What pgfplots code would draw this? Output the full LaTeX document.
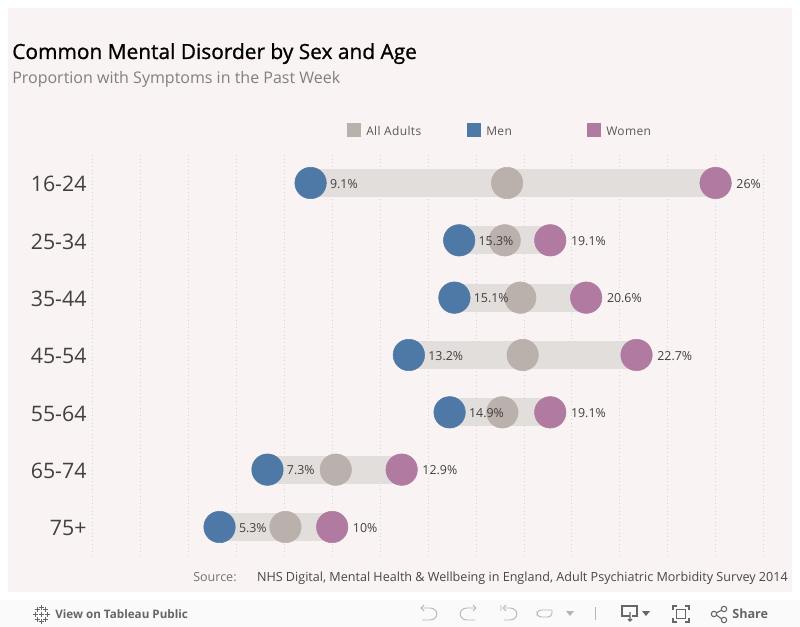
\documentclass[border=0pt]{standalone}
\usepackage{fontspec}
\setmainfont{Open Sans}
\newfontfamily\titlefont[FakeBold=0.9]{Open Sans}
\usepackage{pgfplots}
\pgfplotsset{compat=1.18}
\usepackage{pgfplotstable}
\definecolor{panel}{HTML}{F9F3F3}
\definecolor{bar}{HTML}{E2DEDC}
\definecolor{men}{HTML}{4E79A7}
\definecolor{women}{HTML}{B07AA1}
\definecolor{adults}{HTML}{BAB0AC}
\definecolor{tool}{HTML}{FAFAFA}
\definecolor{icon}{HTML}{B5B5B5}
\definecolor{icond}{HTML}{666666}
\pgfplotstableread{
x y
9.1 0
15.3 1
15.1 2
13.2 3
14.9 4
7.3 5
5.3 6
}\men
\pgfplotstableread{
x y
26 0
19.1 1
20.6 2
22.7 3
19.1 4
12.9 5
10 6
}\women
\pgfplotstableread{
x y
17.3 0
17.2 1
17.85 2
17.95 3
17.1 4
10.15 5
8.05 6
}\adults
\newcommand{\fs}[1]{\fontsize{#1}{#1}\selectfont}
\begin{document}
\begin{tikzpicture}[x=0.75pt,y=-0.75pt]
\useasboundingbox (0,0) rectangle (800,627);
\fill[white] (0,0) rectangle (800,627);
\fill[panel] (8,8) rectangle (792,592);
\fill[tool] (0,600) rectangle (800,627);
\node[anchor=base west,inner sep=0,text=black] at (12,59) {\titlefont\fs{15.66}Common Mental Disorder by Sex and Age};
\node[anchor=base west,inner sep=0,text=black!50] at (12,84) {\fs{12}Proportion with Symptoms in the Past Week};
% legend
\fill[adults] (347,123) rectangle (361,137);
\node[anchor=west,inner sep=0,text=black!65] at (366,131.2) {\addfontfeature{LetterSpace=3}\fs{9}All Adults};
\fill[men] (467,123) rectangle (481,137);
\node[anchor=west,inner sep=0,text=black!65] at (486,131.2) {\addfontfeature{LetterSpace=3}\fs{9}Men};
\fill[women] (587,123) rectangle (601,137);
\node[anchor=west,inner sep=0,text=black!65] at (606,131.2) {\addfontfeature{LetterSpace=3}\fs{9}Women};
\begin{axis}[
  at={(69.4pt,-417pt)},anchor=south west,
  scale only axis,width=503.25pt,height=300.75pt,
  xmin=0,xmax=28,ymin=-0.488,ymax=6.506,y dir=reverse,
  clip=false,
  axis line style={draw=none},
  xtick={0,2,...,28},xticklabels={},
  ytick={0,...,6},yticklabels={16-24,25-34,35-44,45-54,55-64,65-74,75+},
  major tick length=0pt,
  yticklabel style={font=\fs{16},text=black!75,anchor=east,xshift=-1pt,yshift=-1pt},
  xmajorgrids,
  major grid style={draw=black!16,line width=0.5pt,dash pattern=on 0.75pt off 2pt},
]
\addplot[bar,line width=21pt] coordinates {(9.1,0)(26,0)};
\addplot[bar,line width=21pt] coordinates {(15.3,1)(19.1,1)};
\addplot[bar,line width=21pt] coordinates {(15.1,2)(20.6,2)};
\addplot[bar,line width=21pt] coordinates {(13.2,3)(22.7,3)};
\addplot[bar,line width=21pt] coordinates {(14.9,4)(19.1,4)};
\addplot[bar,line width=21pt] coordinates {(7.3,5)(12.9,5)};
\addplot[bar,line width=21pt] coordinates {(5.3,6)(10,6)};
\addplot[only marks,mark=*,mark size=11.8pt,mark options={draw=men,fill=men,line width=0.4pt}] table {\men};
\addplot[only marks,mark=*,mark size=11.8pt,mark options={draw=adults,fill=adults,line width=0.4pt}] table {\adults};
\addplot[only marks,mark=*,mark size=11.8pt,mark options={draw=women,fill=women,line width=0.4pt}] table {\women};
\addplot[draw=none,mark=none,point meta=explicit symbolic,
  nodes near coords={\pgfplotspointmeta\%},
  every node near coord/.style={anchor=west,inner sep=0,xshift=14.4pt,yshift=-0.6pt,font=\fs{9.3},text=black!75}]
  table[meta=x] {\men};
\addplot[draw=none,mark=none,point meta=explicit symbolic,
  nodes near coords={\pgfplotspointmeta\%},
  every node near coord/.style={anchor=west,inner sep=0,xshift=15.4pt,yshift=-0.6pt,font=\fs{9.3},text=black!75}]
  table[meta=x] {\women};
\end{axis}
% source
\node[anchor=base west,inner sep=0,text=black!55] at (193,581) {\fs{9.4}Source:};
\node[anchor=base east,inner sep=0,text=black!72] at (788,581) {\fs{9.44}NHS Digital, Mental Health \& Wellbeing in England, Adult Psychiatric Morbidity Survey 2014};
% toolbar
\node[anchor=west,inner sep=0,text=icond] at (55,614) {\fs{8.75}\textbf{View on Tableau Public}};
\foreach \a/\b in {41/614,35/614,47/614,41/607,41/621,37/609,45/609,37/619,45/619}
  {\draw[icond,line width=0.6pt] (\a-2.5,\b) -- (\a+2.5,\b) (\a,\b-2.5) -- (\a,\b+2.5);}
\begin{scope}[icon,line width=0.7pt]
\draw[rounded corners=5pt] (421,608) -- (437,608) -- (437,620) -- (422,620);
\draw (421,608) -- (424,605) (421,608) -- (424,611);
\draw[rounded corners=5pt] (476,608) -- (460,608) -- (460,620) -- (475,620);
\draw (476,608) -- (473,605) (476,608) -- (473,611);
\draw[rounded corners=5pt] (503,608) -- (517,608) -- (517,620) -- (504,620);
\draw (501,605) -- (501,611) (503,608) -- (506,605) (503,608) -- (506,611);
\draw[rounded corners=3pt] (552,610) -- (537,610) -- (537,617) -- (552,617) -- (552,610);
\fill (566,611) -- (574,611) -- (570,616) -- cycle;
\draw (595,607) -- (595,620);
\end{scope}
\begin{scope}[icond,line width=0.8pt]
\draw (630,616) -- (622,616) -- (622,606) -- (637,606) -- (637,616) -- (632,616);
\draw (630,612) -- (630,621) (628,619) -- (630,621) -- (632,619);
\fill (642,611) -- (650,611) -- (646,616) -- cycle;
\draw (673,610) -- (673,606) -- (677,606) (685,606) -- (689,606) -- (689,610) (689,618) -- (689,622) -- (685,622) (677,622) -- (673,622) -- (673,618);
\draw (676.5,609.5) rectangle (685.5,618.5);
\draw (714,614) circle (2.7) (724,609) circle (2.7) (724,620) circle (2.7);
\draw (716.5,612.8) -- (721.5,610.3) (716.5,615.2) -- (721.5,618.7);
\end{scope}
\node[anchor=west,inner sep=0,text=icond] at (732,614) {\fs{9.5}\textbf{Share}};
\end{tikzpicture}
\end{document}
